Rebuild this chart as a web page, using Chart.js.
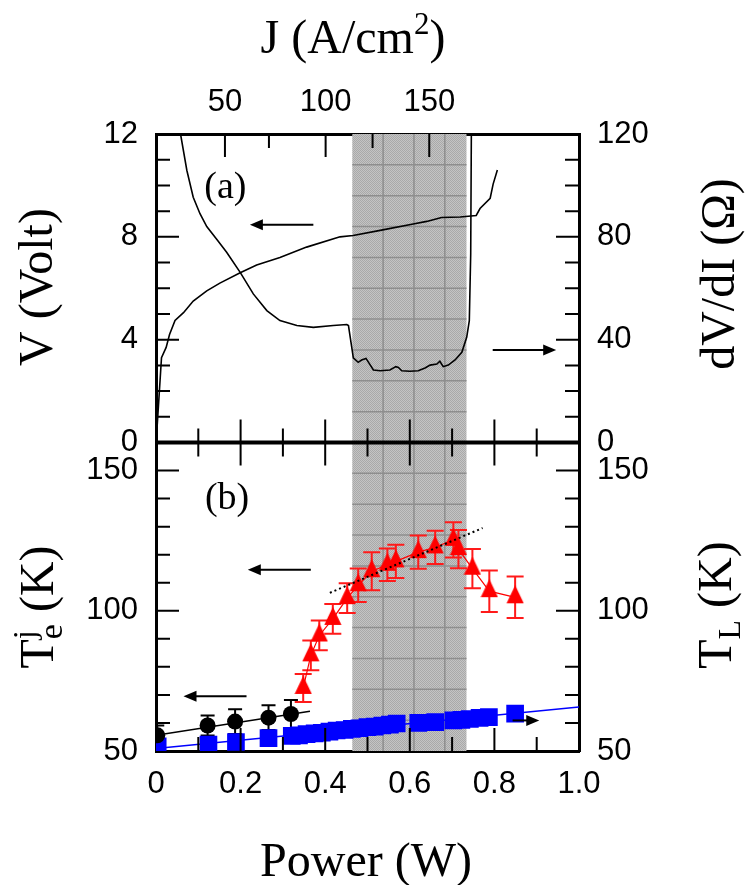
<!DOCTYPE html>
<html>
<head>
<meta charset="utf-8">
<script src="https://cdn.jsdelivr.net/npm/chart.js@4.4.0/dist/chart.umd.min.js"></script>
<style>
  html, body { margin: 0; padding: 0; background: #fff; }
  canvas { display: block; }
</style>
</head>
<body>
<canvas id="powerChart" width="745" height="885"></canvas>
<script>
const SERIF = '"Liberation Serif", "Times New Roman", serif';
const SANS = '"Liberation Sans", Arial, sans-serif';

// (a) voltage and differential resistance against power
let vPower = [0.003, 0.013, 0.024, 0.032, 0.045, 0.065, 0.088, 0.12, 0.151, 0.199, 0.238, 0.293, 0.356, 0.435,
              0.466, 0.53, 0.608, 0.64, 0.675, 0.719, 0.757, 0.766, 0.79, 0.797, 0.807];
let vVolt = [0.7, 3.3, 3.7, 4.2, 4.75, 5.05, 5.5, 5.9, 6.2, 6.6, 6.9, 7.2, 7.6, 8.0,
             8.05, 8.25, 8.5, 8.6, 8.75, 8.77, 8.83, 9.1, 9.5, 10.05, 10.6];
let rPower = [0.058, 0.073, 0.088, 0.104, 0.12, 0.143, 0.167, 0.199, 0.23, 0.262, 0.293, 0.333, 0.372, 0.419,
              0.451, 0.455, 0.4665, 0.478, 0.486, 0.4965, 0.504, 0.514, 0.53, 0.553, 0.567, 0.573, 0.581,
              0.6, 0.62, 0.636, 0.648, 0.664, 0.671, 0.679, 0.691, 0.707, 0.723, 0.7345, 0.7407, 0.744, 0.7455];
let rOhm = [120, 105.8, 95.4, 89, 84, 79.2, 74, 66.2, 57.8, 51.3, 47.4, 45.5, 44.8, 45.5,
            45.9, 45.5, 32.9, 31.2, 32.1, 32.7, 30.8, 28.2, 27.9, 28.2, 29.5, 29.2, 27.9,
            27.7, 27.9, 29.0, 30.1, 30.5, 31.6, 29.5, 30.1, 32.1, 35.1, 40.9, 47.4, 73.4, 120];

// (b) electron temperature (triangles), low-power electron temperature (circles), lattice temperature (squares)
let tePower = [0.348, 0.366, 0.386, 0.418, 0.452, 0.478, 0.510, 0.547, 0.567, 0.620, 0.660, 0.703, 0.715, 0.748, 0.788, 0.849];
let teKelvin = [72.5, 84.1, 91.2, 97.1, 104.5, 109.1, 114.1, 116.4, 117.6, 120.9, 122.6, 125.3, 122.0, 115.0, 107.0, 104.8];
let teError = [5.0, 5.3, 5.3, 5.3, 5.3, 6.0, 6.8, 5.8, 5.9, 5.9, 5.9, 6.3, 6.8, 7.0, 7.4, 7.4];

let tdPower = [0.003, 0.122, 0.187, 0.266, 0.319];
let tdKelvin = [55.6, 59.1, 60.5, 61.9, 63.2];
let tdError = [3.5, 3.6, 4.4, 4.4, 5.0];

let tlPower = [0.004, 0.124, 0.189, 0.266, 0.321, 0.338, 0.356, 0.375, 0.392, 0.41, 0.427, 0.446, 0.463,
               0.481, 0.5, 0.517, 0.535, 0.553, 0.569, 0.62, 0.66, 0.703, 0.722, 0.742, 0.765, 0.787, 0.849];
let tlKelvin = [51.7, 52.3, 53.2, 54.6, 55.4, 55.6, 56.0, 56.3, 56.5, 56.9, 57.3, 57.5, 57.9,
                58.1, 58.5, 58.7, 59.1, 59.4, 59.8, 60.0, 60.3, 60.9, 61.1, 61.4, 61.8, 62.1, 63.3];

// straight-line fits
let teFitPower = [0.411, 0.772];
let teFitKelvin = [106.4, 129.5];
let tdFitPower = [0, 0.364];
let tdFitKelvin = [55.6, 64.2];
let tlFitPower = [0, 1.0];
let tlFitKelvin = [50.9, 65.7];

// current density on the top axis, placed at the matching power
let jValues = [50, 75, 100, 125, 150];
let jAtPower = [0.163, 0.267, 0.401, 0.512, 0.646];

// shaded power range
let bandPower = [0.464, 0.734];

const pts = (xs, ys) => xs.map((x, i) => ({x: x, y: ys[i]}));

function triangleMarker(color) {
  const c = document.createElement('canvas');
  c.width = 18; c.height = 24;
  const g = c.getContext('2d');
  g.fillStyle = color;
  g.beginPath();
  g.moveTo(9, 0); g.lineTo(17.6, 18); g.lineTo(0.4, 18);
  g.closePath(); g.fill();
  return c;
}

function stipple(ctx) {
  const c = document.createElement('canvas');
  c.width = 2; c.height = 2;
  const g = c.getContext('2d');
  g.fillStyle = '#c4c4c4'; g.fillRect(0, 0, 2, 2);
  g.fillStyle = '#a9a9a9'; g.fillRect(0, 0, 1, 1); g.fillRect(1, 1, 1, 1);
  return ctx.createPattern(c, 'repeat');
}

function drawRich(ctx, parts, x, y, angle) {
  ctx.save();
  ctx.translate(x, y);
  ctx.rotate(angle);
  ctx.fillStyle = '#000';
  ctx.textAlign = 'left';
  ctx.textBaseline = 'alphabetic';
  const widths = parts.map(p => { ctx.font = p.size + 'px ' + SERIF; return ctx.measureText(p.text).width; });
  let total = 0, held = 0;
  parts.forEach((p, i) => {
    if (p.hold) held = widths[i]; else { total += Math.max(widths[i], held); held = 0; }
  });
  let cx = -total / 2;
  held = 0;
  parts.forEach((p, i) => {
    ctx.font = p.size + 'px ' + SERIF;
    ctx.fillText(p.text, cx, p.shift || 0);
    if (p.hold) held = widths[i]; else { cx += Math.max(widths[i], held); held = 0; }
  });
  ctx.restore();
}

let arrows = [
  {axis: 'yV', from: 0.372, to: 0.222, at: 8.47},
  {axis: 'yR', from: 0.796, to: 0.946, at: 36.0},
  {axis: 'yTe', from: 0.366, to: 0.217, at: 114.6},
  {axis: 'yTe', from: 0.214, to: 0.065, at: 69.5},
  {axis: 'yTL', from: 0.843, to: 0.906, at: 60.9}
];
let panelTags = [
  {axis: 'yV', x: 0.164, y: 9.9, text: '(a)'},
  {axis: 'yTe', x: 0.168, y: 140, text: '(b)'}
];
let axisTitles = [
  {parts: [{text: 'J (A/cm', size: 48}, {text: '2', size: 31, shift: -19}, {text: ')', size: 48}], x: 353, y: 53, angle: 0},
  {parts: [{text: 'Power (W)', size: 48}], x: 366, y: 876, angle: 0},
  {parts: [{text: 'V (Volt)', size: 48}], x: 52, y: 287, angle: -Math.PI / 2},
  {parts: [{text: 'T', size: 48}, {text: 'e', size: 34, shift: 9, hold: true}, {text: 'j', size: 32, shift: -18},
           {text: ' (K)', size: 48}], x: 53, y: 607, angle: -Math.PI / 2},
  {parts: [{text: 'dV/dI (\u03a9)', size: 48}], x: 734, y: 274, angle: -Math.PI / 2},
  {parts: [{text: 'T', size: 48}, {text: 'L', size: 32, shift: 9}, {text: ' (K)', size: 48}], x: 731, y: 605, angle: -Math.PI / 2}
];
let errorBars = [
  {axis: 'yTe', xs: tePower, ys: teKelvin, err: teError, color: '#ff1a1a', cap: 8.5},
  {axis: 'yTe', xs: tdPower, ys: tdKelvin, err: tdError, color: '#000', cap: 7}
];

function tickMarks(ctx, scale, edge, dir, horizontal, isLong) {
  scale.ticks.forEach((t, i) => {
    const p = scale.getPixelForValue(t.value);
    if (horizontal ? (p < scale.left + 2 || p > scale.right - 2) : (p < scale.top + 2 || p > scale.bottom - 2)) return;
    const len = isLong(t.value, i) ? 23 : 14;
    if (horizontal) { ctx.moveTo(p, edge); ctx.lineTo(p, edge + dir * len); }
    else { ctx.moveTo(edge, p); ctx.lineTo(edge + dir * len, p); }
  });
}

const decorations = {
  id: 'decorations',
  beforeDatasetsDraw(chart) {
    const {ctx, chartArea: a, scales} = chart;
    const x = scales.x;
    const x0 = x.getPixelForValue(bandPower[0]), x1 = x.getPixelForValue(bandPower[1]);
    ctx.save();
    ctx.fillStyle = stipple(ctx);
    ctx.fillRect(x0, a.top, x1 - x0, a.bottom - a.top);
    const cell = (a.bottom - a.top) / 20;
    ctx.strokeStyle = '#8e8e8e';
    ctx.lineWidth = 1.5;
    ctx.beginPath();
    for (let gx = x0 + cell; gx < x1 - 4; gx += cell) { ctx.moveTo(gx, a.top); ctx.lineTo(gx, a.bottom); }
    for (let gy = a.top + cell; gy < a.bottom - 4; gy += cell) { ctx.moveTo(x0, gy); ctx.lineTo(x1, gy); }
    ctx.stroke();

    ctx.beginPath();
    ctx.rect(a.left, a.top, a.right - a.left, a.bottom - a.top);
    ctx.clip();
    errorBars.forEach(e => {
      const ys = scales[e.axis];
      ctx.strokeStyle = e.color;
      ctx.lineWidth = 2;
      ctx.beginPath();
      e.xs.forEach((v, k) => {
        const px = x.getPixelForValue(v);
        const lo = ys.getPixelForValue(e.ys[k] - e.err[k]);
        const hi = ys.getPixelForValue(e.ys[k] + e.err[k]);
        ctx.moveTo(px, lo); ctx.lineTo(px, hi);
        ctx.moveTo(px - e.cap, lo); ctx.lineTo(px + e.cap, lo);
        ctx.moveTo(px - e.cap, hi); ctx.lineTo(px + e.cap, hi);
      });
      ctx.stroke();
    });
    ctx.restore();
  },
  afterDatasetsDraw(chart) {
    const {ctx, chartArea: a, scales} = chart;
    const {x, x2, yV, yR, yTe, yTL} = scales;
    ctx.save();
    ctx.strokeStyle = '#000';
    ctx.lineWidth = 2;
    ctx.beginPath();
    const even = v => Math.round(v * 10) % 2 === 0;
    const mid = yV.bottom;
    tickMarks(ctx, x, a.bottom, -1, true, even);
    tickMarks(ctx, x, mid, -1, true, even);
    tickMarks(ctx, x, mid, 1, true, even);
    tickMarks(ctx, x2, a.top, 1, true, (v, i) => jValues[i] % 50 === 0);
    tickMarks(ctx, yV, a.left, 1, false, v => v % 4 === 0);
    tickMarks(ctx, yR, a.right, -1, false, v => v % 40 === 0);
    tickMarks(ctx, yTe, a.left, 1, false, v => v % 50 === 0);
    tickMarks(ctx, yTL, a.right, -1, false, v => v % 50 === 0);
    ctx.stroke();

    // divider between the two panels
    ctx.lineWidth = 4;
    ctx.beginPath();
    ctx.moveTo(a.left, mid); ctx.lineTo(a.right, mid);
    ctx.stroke();

    // arrows pointing to the axis each curve belongs to
    ctx.fillStyle = '#000';
    ctx.lineWidth = 2;
    arrows.forEach(r => {
      const y = scales[r.axis].getPixelForValue(r.at);
      const xa = x.getPixelForValue(r.from), xb = x.getPixelForValue(r.to);
      const d = Math.sign(xb - xa);
      ctx.beginPath();
      ctx.moveTo(xa, y); ctx.lineTo(xb - d * 10, y);
      ctx.stroke();
      ctx.beginPath();
      ctx.moveTo(xb, y); ctx.lineTo(xb - d * 13, y - 5.5); ctx.lineTo(xb - d * 13, y + 5.5);
      ctx.closePath(); ctx.fill();
    });

    ctx.font = '38px ' + SERIF;
    ctx.textAlign = 'center';
    ctx.textBaseline = 'middle';
    panelTags.forEach(t => {
      ctx.fillText(t.text, x.getPixelForValue(t.x), scales[t.axis].getPixelForValue(t.y));
    });
    ctx.restore();
  },
  afterDraw(chart) {
    axisTitles.forEach(t => drawRich(chart.ctx, t.parts, t.x, t.y, t.angle));
  }
};

const tickFont = {family: SANS, size: 31};
const frame = {display: true, width: 3, color: '#000'};
const noGrid = {display: false, drawTicks: false};

function yAxis(position, stack, min, max, step, major) {
  return {
    type: 'linear', position: position, stack: stack, stackWeight: 1,
    min: min, max: max,
    grid: noGrid, border: frame,
    ticks: {stepSize: step, font: tickFont, color: '#000', padding: 18, autoSkip: false,
            callback: v => (v % major === 0 ? String(v) : '')},
    afterFit: s => { s.width = position === 'left' ? 156 : 166; }
  };
}

new Chart('powerChart', {
  type: 'scatter',
  data: {
    datasets: [
      {label: 'Te fit', data: pts(teFitPower, teFitKelvin), yAxisID: 'yTe', showLine: true,
       borderColor: '#000', borderWidth: 2, borderDash: [2, 3], pointRadius: 0},
      {label: 'Te', data: pts(tePower, teKelvin), yAxisID: 'yTe', showLine: true,
       borderColor: '#ff0000', borderWidth: 1.2, pointStyle: triangleMarker('#ff0000'), pointRadius: 9, clip: 0},
      {label: 'Te low', data: pts(tdPower, tdKelvin), yAxisID: 'yTe',
       backgroundColor: '#000', borderWidth: 0, pointRadius: 8, clip: 0},
      {label: 'Te low fit', data: pts(tdFitPower, tdFitKelvin), yAxisID: 'yTe', showLine: true,
       borderColor: '#000', borderWidth: 1.6, pointRadius: 0, clip: 0},
      {label: 'TL', data: pts(tlPower, tlKelvin), yAxisID: 'yTL', pointStyle: 'rect',
       backgroundColor: '#0000ff', borderWidth: 0, pointRadius: 12.5, clip: 0},
      {label: 'TL fit', data: pts(tlFitPower, tlFitKelvin), yAxisID: 'yTL', showLine: true,
       borderColor: '#0000ff', borderWidth: 1.6, pointRadius: 0, clip: 0},
      {label: 'V', data: pts(vPower, vVolt), yAxisID: 'yV', showLine: true,
       borderColor: '#000', borderWidth: 1.6, pointRadius: 0, clip: 0},
      {label: 'dV/dI', data: pts(rPower, rOhm), yAxisID: 'yR', showLine: true,
       borderColor: '#000', borderWidth: 1.6, pointRadius: 0, clip: 0}
    ]
  },
  options: {
    responsive: false,
    animation: false,
    devicePixelRatio: 1,
    layout: {padding: 0},
    plugins: {legend: {display: false}, tooltip: {enabled: false}},
    scales: {
      x: {
        type: 'linear', position: 'bottom', min: 0, max: 1,
        grid: noGrid, border: frame,
        ticks: {stepSize: 0.1, font: tickFont, color: '#000', padding: 15, autoSkip: false, maxRotation: 0,
                callback: v => { const k = Math.round(v * 10); return k % 2 ? '' : (k === 0 ? '0' : (k / 10).toFixed(1)); }},
        afterFit: s => { s.height = 134; }
      },
      x2: {
        type: 'linear', position: 'top', min: 0, max: 1,
        grid: noGrid, border: frame,
        afterBuildTicks: s => { s.ticks = jAtPower.map(v => ({value: v})); },
        ticks: {font: tickFont, color: '#000', padding: 13, autoSkip: false, maxRotation: 0,
                callback: (v, i) => (jValues[i] % 50 === 0 ? String(jValues[i]) : '')},
        afterFit: s => { s.height = 134; }
      },
      // the left stack is laid out bottom-up, so the lower panel's axis comes first
      yTe: yAxis('left', 'left', 50, 160, 10, 50),
      yV: yAxis('left', 'left', 0, 12, 1, 4),
      yR: yAxis('right', 'right', 0, 120, 10, 40),
      yTL: yAxis('right', 'right', 50, 160, 10, 50)
    }
  },
  plugins: [decorations]
});
</script>
</body>
</html>
